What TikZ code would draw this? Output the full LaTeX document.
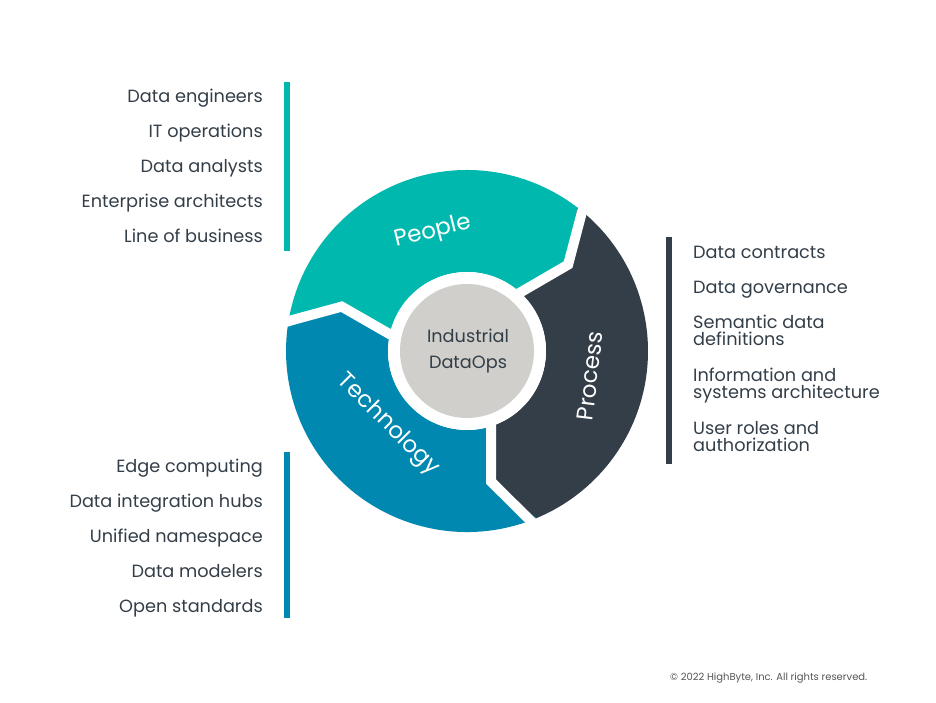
\documentclass[tikz,border=0pt]{standalone}
\usepackage{fontspec}
\setmainfont{Poppins}
\definecolor{peoplec}{HTML}{00B8AE}
\definecolor{techc}{HTML}{0088B0}
\definecolor{procc}{HTML}{333E48}
\definecolor{centerc}{HTML}{D0CFCB}
\definecolor{textc}{HTML}{333E48}
\definecolor{copyc}{HTML}{555555}
\begin{document}
\begin{tikzpicture}[x=1pt,y=1pt,
  item/.style={font=\fontsize{17.7}{20}\selectfont, text=textc, inner sep=0pt},
  leftitem/.style={item, anchor=base east},
  rightitem/.style={item, anchor=base west},
  seglabel/.style={font=\fontsize{23}{26}\selectfont, text=white, inner sep=0pt},
  gapline/.style={white, line width=10pt, line join=miter},
  barline/.style={line width=6pt}]
\useasboundingbox (0,0) rectangle (936,702);

% ring
\begin{scope}[shift={(467,351)}]
  \fill[peoplec] (172.5:181) arc[start angle=172.5, end angle=52.5, radius=181]
    -- (40.5:133) -- (49.5:79) arc[start angle=49.5, end angle=169.5, radius=79]
    -- (160.5:133) -- cycle;
  \fill[procc] (52.5:181) arc[start angle=52.5, end angle=-67.5, radius=181]
    -- (-79.5:133) -- (-70.5:79) arc[start angle=-70.5, end angle=49.5, radius=79]
    -- (40.5:133) -- cycle;
  \fill[techc] (-67.5:181) arc[start angle=-67.5, end angle=-187.5, radius=181]
    -- (-199.5:133) -- (-190.5:79) arc[start angle=-190.5, end angle=-70.5, radius=79]
    -- (-79.5:133) -- cycle;
  \foreach \b in {52.5,-67.5,172.5}{
    \draw[gapline] (\b:196) -- ({\b-12}:133) -- ({\b-3}:72);
  }
  \fill[white] (0,0) circle[radius=79];
  \fill[centerc] (0,0) circle[radius=67];
\end{scope}

\node[item, anchor=base] (ind) at (468,359) {Industrial};
\node[item, anchor=base] (dops) at (468,334) {DataOps};

\node[seglabel, rotate=14] (people) at (433,470) {People};
\node[seglabel, rotate=83] (process) at (590,326) {Process};
\node[seglabel, rotate=-45] (tech) at (388,277) {Technology};

% bars
\draw[barline, peoplec] (287,620) -- (287,451);
\draw[barline, techc] (287,250) -- (287,84);
\draw[barline, procc] (669,465) -- (669,238);

% people list
\node[leftitem] (p1) at (263,599) {Data engineers};
\node[leftitem] (p2) at (263,564) {IT operations};
\node[leftitem] (p3) at (263,529) {Data analysts};
\node[leftitem] (p4) at (263,494) {Enterprise architects};
\node[leftitem] (p5) at (263,459) {Line of business};

% technology list
\node[leftitem] (t1) at (263,230) {Edge computing};
\node[leftitem] (t2) at (263,195) {Data integration hubs};
\node[leftitem] (t3) at (263,160) {Unified namespace};
\node[leftitem] (t4) at (263,125) {Data modelers};
\node[leftitem] (t5) at (263,90) {Open standards};

% process list
\node[rightitem] (r1) at (693,443) {Data contracts};
\node[rightitem] (r2) at (693,408) {Data governance};
\node[rightitem] (r3a) at (693,373) {Semantic data};
\node[rightitem] (r3b) at (693,356) {definitions};
\node[rightitem] (r4a) at (693,320) {Information and};
\node[rightitem] (r4b) at (693,303) {systems architecture};
\node[rightitem] (r5a) at (693,268) {User roles and};
\node[rightitem] (r5b) at (693,251) {authorization};

\node[font=\fontsize{10}{12}\selectfont, text=copyc, inner sep=0pt, anchor=base west] (copy) at (670,21.5) {© 2022 HighByte, Inc. All rights reserved.};
\end{tikzpicture}
\end{document}
